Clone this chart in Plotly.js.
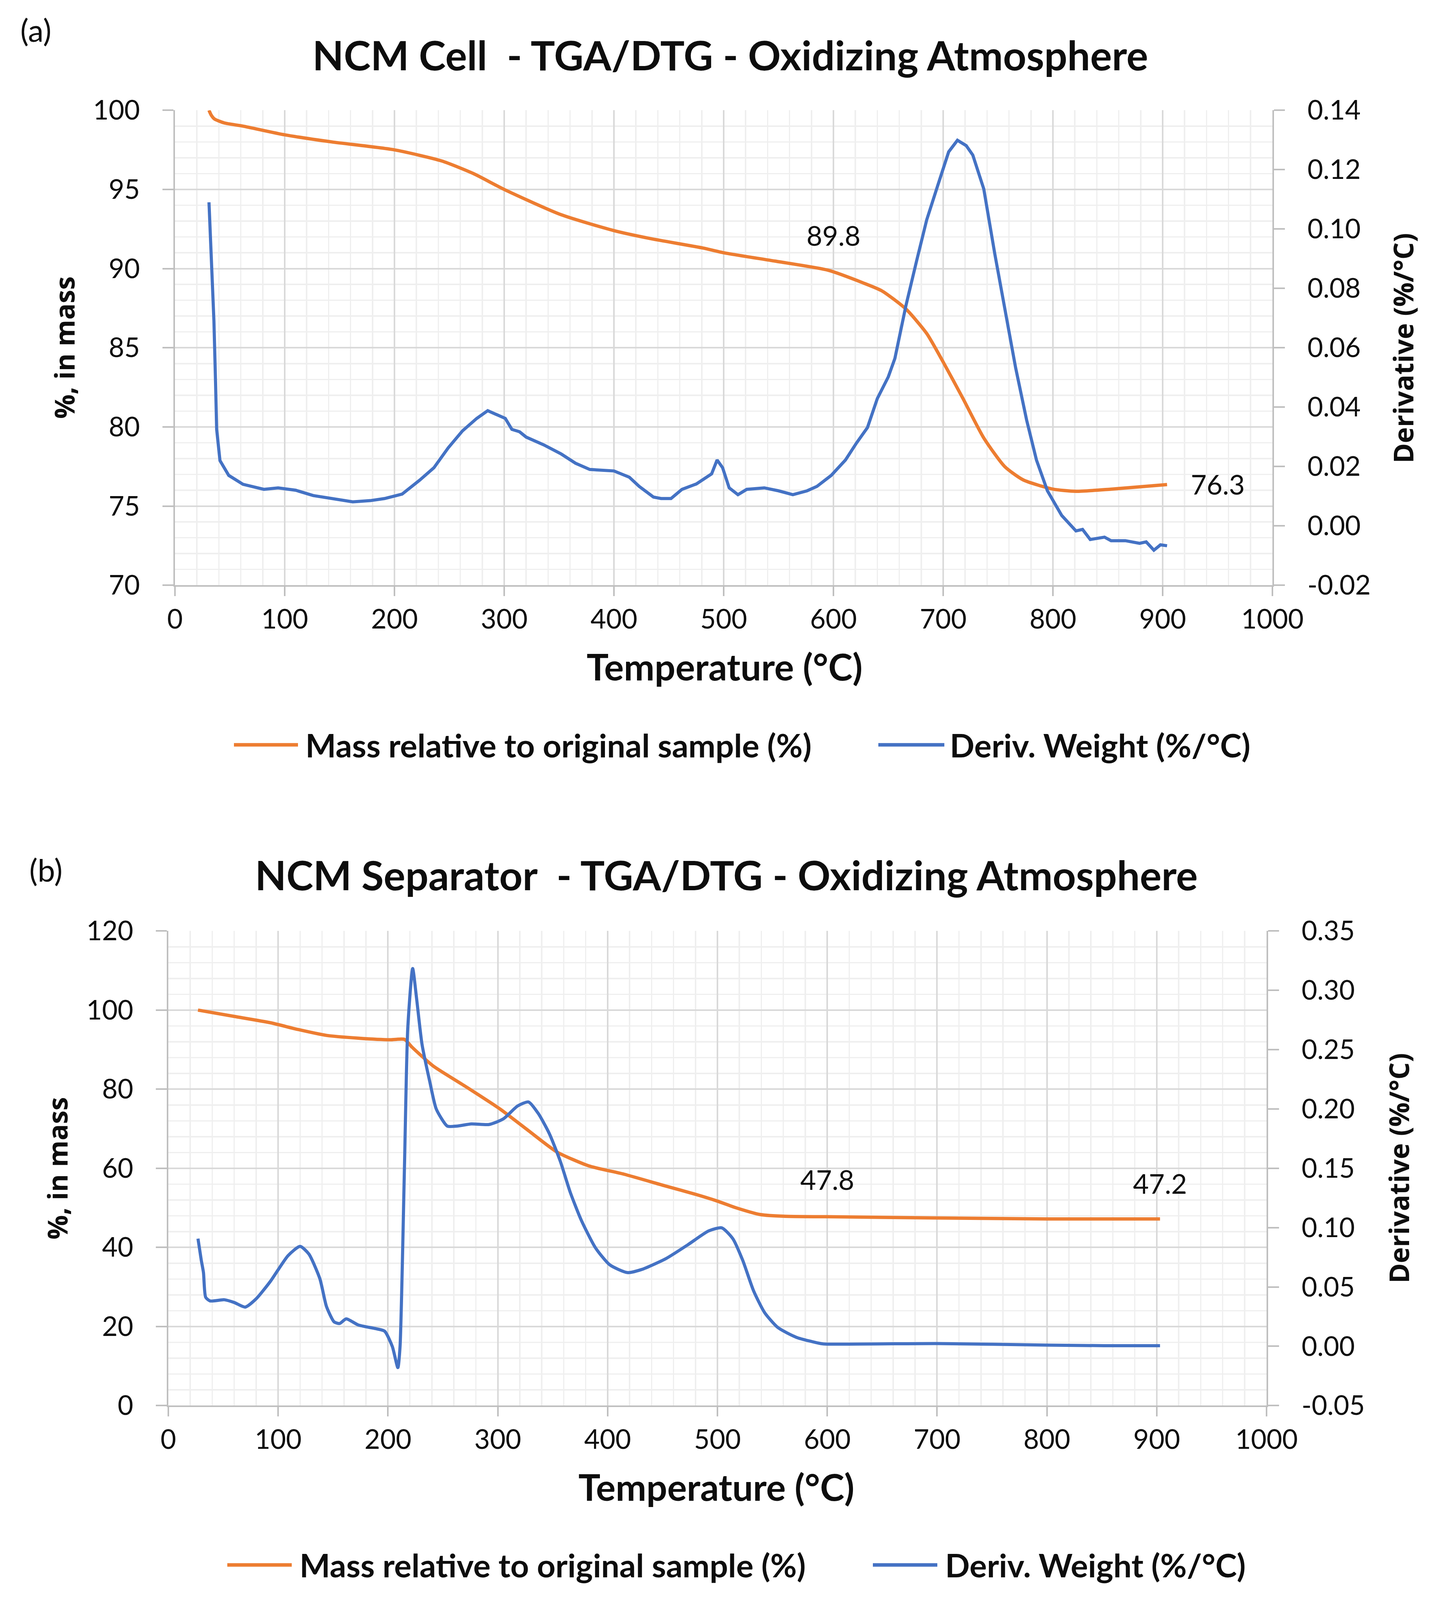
<!DOCTYPE html>
<html>
<head>
<meta charset="utf-8">
<script src="https://cdn.plot.ly/plotly-3.0.1.min.js"></script>
<style>
  html, body { margin: 0; padding: 0; background: #ffffff; overflow: hidden; }
</style>
</head>
<body>
<div id="graph"></div>
<script>
/* ----------------Data---------------- */

// (a) NCM cell, mass curve
var cellMassTemp = [31, 33, 36, 45, 62, 100, 143, 200, 243, 272, 300, 352, 400, 433, 481, 500,
    547, 595, 627, 644, 666, 685, 700, 718, 737, 756, 773, 800, 821, 853, 904];
var cellMass = [100.0, 99.7, 99.45, 99.2, 99.0, 98.45, 98.0, 97.5, 96.8, 96.0, 95.0, 93.4, 92.4, 91.9, 91.3, 91.0,
    90.47, 89.9, 89.1, 88.6, 87.45, 85.9, 84.1, 81.8, 79.3, 77.5, 76.65, 76.07, 75.93, 76.07, 76.36];

// (a) NCM cell, derivative curve
var cellDerivTemp = [31, 33, 35.5, 37, 38, 41, 49, 62, 81, 94,
    110, 126, 143, 162, 178, 191, 207, 223, 236, 249,
    262, 275, 285, 301, 307, 314, 320, 336, 352, 365,
    378, 391, 400, 414, 423, 436, 443, 452, 462, 475,
    485, 489, 494, 499, 505, 513, 521, 537, 550, 563,
    576, 585, 598, 611, 621, 631, 640, 650, 656, 666,
    676, 685, 695, 705, 713, 721, 727, 737, 747, 756,
    766, 776, 785, 795, 808, 821, 827, 834, 847, 853,
    866, 879, 885, 892, 898, 904];
var cellDeriv = [0.109, 0.090, 0.069, 0.048, 0.0325, 0.022, 0.017, 0.014, 0.0123, 0.0128,
    0.012, 0.0102, 0.0092, 0.0081, 0.0085, 0.0092, 0.0107, 0.0154, 0.0196, 0.0263,
    0.032, 0.0362, 0.0388, 0.0362, 0.0325, 0.0317, 0.0299, 0.0273, 0.0242, 0.0211,
    0.019, 0.0188, 0.0185, 0.0164, 0.0133, 0.0097, 0.0092, 0.0092, 0.0123, 0.0141,
    0.0164, 0.0175, 0.0222, 0.0196, 0.0128, 0.0105, 0.0123, 0.0128, 0.0118, 0.0105,
    0.0118, 0.0133, 0.017, 0.0222, 0.0279, 0.0331, 0.0429, 0.0502, 0.0564, 0.0741,
    0.0896, 0.1031, 0.1146, 0.126, 0.1299, 0.1281, 0.1249, 0.1135, 0.0917, 0.0741,
    0.0533, 0.0357, 0.0222, 0.0118, 0.0035, -0.0017, -0.0012, -0.0046, -0.0038, -0.005,
    -0.005, -0.0059, -0.0054, -0.0082, -0.0064, -0.0067];

var cellLabelTemp = [600, 904];
var cellLabelMass = [89.8, 76.3];

// (b) NCM separator, mass curve
var sepMassTemp = [27, 60, 93, 118, 144, 173, 202, 215, 222, 241,
    270, 302, 328, 354, 383, 415, 453, 479, 500, 517,
    539, 562, 600, 700, 800, 903];
var sepMass = [100.0, 98.4, 96.8, 95.1, 93.6, 92.9, 92.5, 92.6, 90.6, 85.9,
    80.8, 75.0, 69.5, 64.1, 60.6, 58.5, 55.5, 53.5, 51.7, 50.0,
    48.3, 47.85, 47.75, 47.45, 47.2, 47.2];

// (b) NCM separator, derivative curve
var sepDerivTemp = [27, 30, 32, 34, 38, 51, 60, 70, 80, 93,
    109, 120, 128, 138, 144, 151, 156, 162, 173, 189,
    197, 204, 209, 211, 215, 218, 222.5, 226, 231, 238,
    244, 254, 263, 276, 292, 305, 318, 328, 337, 347,
    357, 366, 376, 389, 402, 418, 431, 453, 473, 492,
    504, 514, 523, 533, 543, 555, 572, 594, 600, 700,
    800, 852, 903];
var sepDeriv = [0.0907, 0.0725, 0.0621, 0.0413, 0.0382, 0.0392, 0.0369, 0.033, 0.04, 0.0548,
    0.0764, 0.0842, 0.0777, 0.0569, 0.0335, 0.0205, 0.0192, 0.0231, 0.0179, 0.0148,
    0.0127, -0.0003, -0.018, -0.0003, 0.1505, 0.2676, 0.3183, 0.2936, 0.2545, 0.2233,
    0.1999, 0.1856, 0.1856, 0.1874, 0.1869, 0.1916, 0.2025, 0.2059, 0.196, 0.1791,
    0.1557, 0.1297, 0.1063, 0.0829, 0.0686, 0.0621, 0.0647, 0.0738, 0.0855, 0.0972,
    0.0998, 0.0907, 0.0725, 0.0465, 0.0283, 0.0158, 0.0075, 0.0023, 0.0018, 0.0023,
    0.001, 0.0005, 0.0005];

var sepLabelTemp = [600, 903];
var sepLabelMass = [47.8, 47.2];

// right-hand tick values (labels printed with a plain hyphen as in the original)
var cellDerivTicks = [-0.02, 0.00, 0.02, 0.04, 0.06, 0.08, 0.10, 0.12, 0.14];
var sepDerivTicks = [-0.05, 0.00, 0.05, 0.10, 0.15, 0.20, 0.25, 0.30, 0.35];

var panelTags = ['(a)', '(b)'];
var panelTitles = ['NCM Cell\u00a0 - TGA/DTG - Oxidizing Atmosphere',
    'NCM Separator\u00a0 - TGA/DTG - Oxidizing Atmosphere'];
var massName = 'Mass relative to original sample (%)';
var derivName = 'Deriv. Weight (%/°C)';

/* ----------------Page geometry---------------- */

// positions below are pixels of the 3682x4831 original; the figure is
// stretched to whatever window it gets, so they are used as fractions
var REF_W = 3682, REF_H = 4831;
var W = window.innerWidth || REF_W;
var H = window.innerHeight || REF_H;
var kx = W / REF_W;
var ky = H / REF_H;

var ORANGE = '#ED7D31';
var BLUE = '#4472C4';
var TEXT = '#0d0d0d';
var TICK_FONT = {family: 'Lato, sans-serif', size: 69 * kx, color: TEXT};

function px(x) { return x / REF_W; }
function py(y) { return 1 - y / REF_H; }

/**
 * Builds a temperature axis with Excel-like major and minor grids.
 */
function tempAxis(left, right, anchor) {
    return {
        domain: [px(left), px(right)],
        anchor: anchor,
        range: [0, 1000],
        autorange: false,
        tick0: 0,
        dtick: 100,
        showgrid: true,
        gridcolor: '#d9d9d9',
        gridwidth: 4,
        minor: {dtick: 20, showgrid: true, gridcolor: '#efefef', gridwidth: 3.5},
        zeroline: false,
        showline: true,
        linecolor: '#bfbfbf',
        linewidth: 4,
        ticks: 'outside',
        ticklen: 28 * ky,
        tickwidth: 4,
        tickcolor: '#bfbfbf',
        ticklabelstandoff: 26 * ky,
        tickfont: TICK_FONT
    };
}

/**
 * Builds the left (mass) axis of a panel.
 */
function massAxis(bottom, top, anchor, range, dtick, minorDtick) {
    return {
        domain: [py(bottom), py(top)],
        anchor: anchor,
        range: range,
        autorange: false,
        dtick: dtick,
        showgrid: true,
        gridcolor: '#d9d9d9',
        gridwidth: 4,
        minor: {dtick: minorDtick, showgrid: true, gridcolor: '#efefef', gridwidth: 3.5},
        zeroline: false,
        showline: true,
        linecolor: '#bfbfbf',
        linewidth: 4,
        ticks: 'outside',
        ticklen: 28 * kx,
        tickwidth: 4,
        tickcolor: '#bfbfbf',
        ticklabelstandoff: 44 * kx,
        tickfont: TICK_FONT
    };
}

/**
 * Builds the right (derivative) axis laid over a mass axis.
 */
function derivAxis(over, anchor, ticks) {
    return {
        overlaying: over,
        anchor: anchor,
        side: 'right',
        range: [ticks[0], ticks[ticks.length - 1]],
        autorange: false,
        tickmode: 'array',
        tickvals: ticks,
        ticktext: ticks.map(function(t) { return t.toFixed(2); }),
        showgrid: false,
        zeroline: false,
        showline: true,
        linecolor: '#bfbfbf',
        linewidth: 4,
        ticks: 'outside',
        ticklen: 28 * kx,
        tickwidth: 4,
        tickcolor: '#bfbfbf',
        ticklabelstandoff: 44 * kx,
        tickfont: TICK_FONT
    };
}

/* ----------------Traces---------------- */

var data = [
    {x: cellMassTemp, y: cellMass, xaxis: 'x', yaxis: 'y', name: massName,
        mode: 'lines', line: {color: ORANGE, width: 8.5, shape: 'spline', smoothing: 0.6}},
    {x: cellDerivTemp, y: cellDeriv, xaxis: 'x', yaxis: 'y2', name: derivName,
        mode: 'lines', line: {color: BLUE, width: 8}},
    {x: sepMassTemp, y: sepMass, xaxis: 'x2', yaxis: 'y3', name: massName,
        mode: 'lines', line: {color: ORANGE, width: 8.5, shape: 'spline', smoothing: 0.6}},
    {x: sepDerivTemp, y: sepDeriv, xaxis: 'x2', yaxis: 'y4', name: derivName,
        mode: 'lines', line: {color: BLUE, width: 8, shape: 'spline', smoothing: 0.6}}
];

/* ----------------Text: titles, axis titles, value labels---------------- */

var annotations = [];
var shapes = [];

function paperText(text, x, y, font, extra) {
    var a = {text: text, xref: 'paper', yref: 'paper', x: px(x), y: py(y),
        xanchor: 'center', yanchor: 'middle', showarrow: false, font: font};
    for (var k in extra) a[k] = extra[k];
    annotations.push(a);
}

var boldFont = function(size) {
    return {family: 'Lato, sans-serif', size: size * kx, color: TEXT, weight: 'bold'};
};
// rotated titles run along the vertical, so they follow the vertical scale
var sideFont = {family: 'Open Sans, sans-serif', size: 82 * ky, color: TEXT, weight: 'bold'};
var tagFont = {family: 'Lato, sans-serif', size: 80 * kx, color: TEXT};

// panel geometry: tag, title, x title, y titles, legend row
var panels = [
    {tag: [92, 90], title: [1870, 165], xTitle: [1855, 2012], leftTitle: [164, 1050],
        rightTitle: [3592, 1052], legendY: 2249, legend: [[599, 763, 780], [2249, 2418, 2430]]},
    {tag: [117, 2625], title: [1860, 2640], xTitle: [1834, 4488], leftTitle: [146, 3528],
        rightTitle: [3581, 3528], legendY: 4725, legend: [[582, 747, 765], [2235, 2400, 2418]]}
];

panels.forEach(function(p, i) {
    paperText(panelTags[i], p.tag[0], p.tag[1], tagFont);
    paperText(panelTitles[i], p.title[0], p.title[1], boldFont(104));
    paperText('Temperature (°C)', p.xTitle[0], p.xTitle[1], boldFont(94));
    paperText('%, in mass', p.leftTitle[0], p.leftTitle[1], sideFont, {textangle: -90});
    paperText('Derivative (%/°C)', p.rightTitle[0], p.rightTitle[1], sideFont, {textangle: -90});

    // legend rows: a short line sample followed by the series name
    [[massName, ORANGE], [derivName, BLUE]].forEach(function(item, j) {
        var row = p.legend[j];
        shapes.push({type: 'line', xref: 'paper', yref: 'paper',
            x0: px(row[0]), x1: px(row[1]), y0: py(p.legendY), y1: py(p.legendY),
            line: {color: item[1], width: 9}});
        paperText(item[0], row[2], p.legendY, boldFont(83), {xanchor: 'left'});
    });
});

// value labels placed next to the mass curve
var labelFont = {family: 'Lato, sans-serif', size: 70 * kx, color: TEXT};
function valueLabel(xr, yr, x, y, xshift, yshift, xanchor) {
    annotations.push({text: y.toFixed(1), xref: xr, yref: yr, x: x, y: y,
        xshift: xshift * kx, yshift: yshift * ky, xanchor: xanchor, yanchor: 'middle',
        showarrow: false, font: labelFont});
}
valueLabel('x', 'y', cellLabelTemp[0], cellLabelMass[0], 0, 110, 'center');
valueLabel('x', 'y', cellLabelTemp[1], cellLabelMass[1], 59, 4, 'left');
valueLabel('x2', 'y3', sepLabelTemp[0], sepLabelMass[0], 0, 112, 'center');
valueLabel('x2', 'y3', sepLabelTemp[1], sepLabelMass[1], 0, 108, 'center');

/* ----------------Layout---------------- */

var layout = {
    width: W,
    height: H,
    showlegend: false,
    margin: {l: 0, r: 0, t: 0, b: 0},
    paper_bgcolor: '#ffffff',
    plot_bgcolor: '#ffffff',
    xaxis: tempAxis(448, 3258, 'y'),
    yaxis: massAxis(1767, 333, 'x', [70, 100], 5, 1),
    yaxis2: derivAxis('y', 'x', cellDerivTicks),
    xaxis2: tempAxis(431, 3243, 'y3'),
    yaxis3: massAxis(4244, 2811, 'x2', [0, 120], 20, 4),
    yaxis4: derivAxis('y3', 'x2', sepDerivTicks),
    annotations: annotations,
    shapes: shapes
};

var graph = document.getElementById('graph');
Plotly.newPlot(graph, data, layout, {staticPlot: true});
</script>
</body>
</html>
